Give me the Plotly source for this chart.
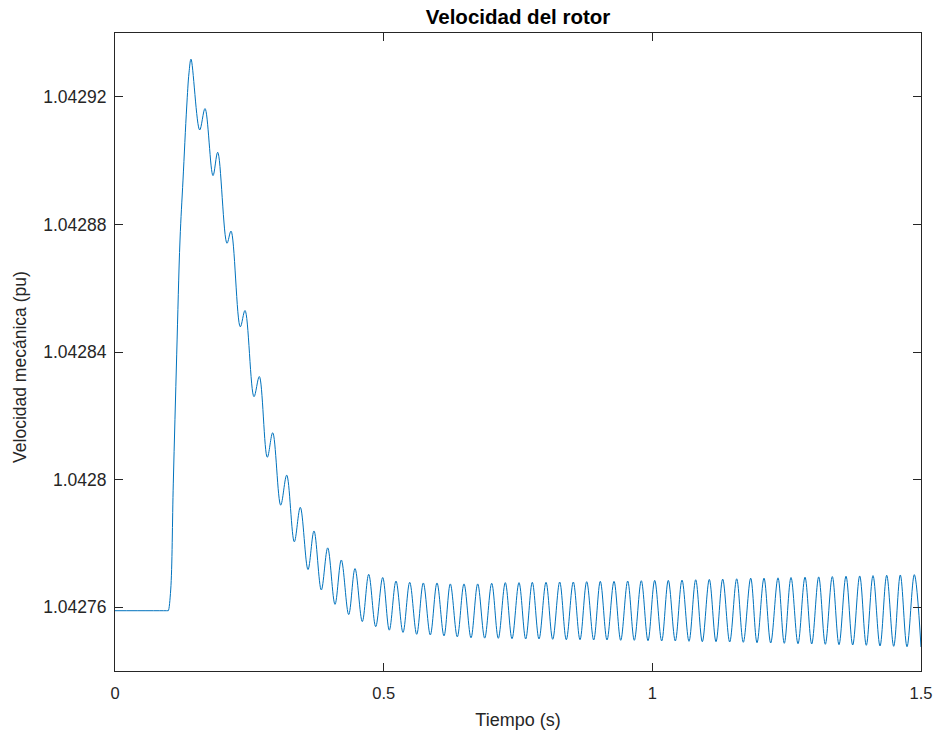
import plotly.graph_objects as go

# ---- data ----
# initial flat part and the rise after the disturbance (t ~ 0.1 s)
rise_t = [0.0, 0.0985, 0.0992, 0.10366, 0.10850, 0.11483, 0.12097, 0.12655, 0.13344, 0.13772]
rise_v = [1.0427589, 1.0427589, 1.0427589, 1.0427654, 1.0427989, 1.0428391,
          1.0428751, 1.0428939, 1.0429168, 1.0429275]

# local maxima of the oscillation
peak_t = [0.14144, 0.16750, 0.19113, 0.21588, 0.24194, 0.26855, 0.29349, 0.31954, 0.34485,
          0.37035, 0.39585, 0.42116, 0.44666, 0.47215, 0.49821, 0.52296, 0.54846, 0.57377,
          0.59926, 0.62401, 0.64951, 0.67500, 0.70106, 0.72637, 0.75187, 0.77662, 0.80212,
          0.82761, 0.85292, 0.87786, 0.90317, 0.92867, 0.95416, 0.97947, 1.00441, 1.02972,
          1.05522, 1.08071, 1.10602, 1.13096, 1.15701, 1.18307, 1.20782, 1.23388, 1.25807,
          1.28413, 1.30962, 1.33494, 1.36043, 1.38593, 1.41068, 1.43618, 1.46149, 1.48754]
peak_v = [1.0429318, 1.0429163, 1.0429026, 1.0428779, 1.0428530, 1.0428323, 1.0428147,
          1.0428014, 1.0427913, 1.0427839, 1.0427786, 1.0427748, 1.0427721, 1.0427703,
          1.0427693, 1.0427682, 1.0427678, 1.0427676, 1.0427676, 1.0427673, 1.0427673,
          1.0427673, 1.0427675, 1.0427677, 1.0427677, 1.0427678, 1.0427678, 1.0427679,
          1.0427679, 1.0427680, 1.0427681, 1.0427681, 1.0427682, 1.0427683, 1.0427684,
          1.0427684, 1.0427685, 1.0427686, 1.0427687, 1.0427688, 1.0427689, 1.0427691,
          1.0427691, 1.0427692, 1.0427693, 1.0427694, 1.0427695, 1.0427696, 1.0427697,
          1.0427698, 1.0427699, 1.0427700, 1.0427701, 1.0427702]

# local minima of the oscillation
trough_t = [0.15763, 0.18238, 0.20844, 0.23319, 0.25869, 0.28344, 0.30838, 0.33369, 0.35918,
            0.38394, 0.40943, 0.43493, 0.46024, 0.48518, 0.51049, 0.53598, 0.56148, 0.58679,
            0.61229, 0.63704, 0.66254, 0.68803, 0.71334, 0.73884, 0.76433, 0.78908, 0.81458,
            0.83989, 0.86539, 0.89089, 0.91564, 0.94114, 0.96645, 0.99194, 1.01744, 1.04275,
            1.06824, 1.09300, 1.11849, 1.14399, 1.16930, 1.19480, 1.22029, 1.24560, 1.27110,
            1.29660, 1.32191, 1.34740, 1.37290, 1.39821, 1.42371, 1.44920, 1.47396, 1.50000]
trough_v = [1.0429096, 1.0428953, 1.0428741, 1.0428479, 1.0428260, 1.0428070, 1.0427920,
            1.0427805, 1.0427718, 1.0427654, 1.0427609, 1.0427577, 1.0427555, 1.0427539,
            1.0427528, 1.0427521, 1.0427515, 1.0427513, 1.0427510, 1.0427507, 1.0427504,
            1.0427503, 1.04275025, 1.04275013, 1.04275003, 1.04275003, 1.04274994,
            1.04274981, 1.04274981, 1.04274972, 1.04274972, 1.04274962, 1.04274962,
            1.04274950, 1.04274941, 1.04274941, 1.04274931, 1.04274919, 1.04274919,
            1.04274909, 1.04274900, 1.04274887, 1.04274878, 1.04274868, 1.04274856,
            1.04274846, 1.04274837, 1.04274825, 1.04274815, 1.04274806, 1.04274784,
            1.04274774, 1.04274762, 1.04274752]

x_ticks = [0, 0.5, 1, 1.5]
x_tick_labels = ["0", "0.5", "1", "1.5"]
y_ticks = [1.04276, 1.0428, 1.04284, 1.04288, 1.04292]
y_tick_labels = ["1.04276", "1.0428", "1.04284", "1.04288", "1.04292"]

# ---- assemble the curve: rise, then alternating maxima / minima ----
t = list(rise_t)
v = list(rise_v)
for pt, pv, tt, tv in zip(peak_t, peak_v, trough_t, trough_v):
    t += [pt, tt]
    v += [pv, tv]

AX = "#262626"
FONT = "Liberation Sans, Arial, Helvetica, sans-serif"

fig = go.Figure()
fig.add_trace(go.Scatter(
    x=t, y=v, mode="lines",
    line=dict(color="#0072BD", width=1, shape="spline", smoothing=1.0),
    hoverinfo="skip", showlegend=False,
))

fig.update_layout(
    width=940, height=734,
    margin=dict(l=115, r=19, t=33, b=63),
    paper_bgcolor="white", plot_bgcolor="white",
    font=dict(family=FONT, color=AX, size=16),
    title=dict(text="<b>Velocidad del rotor</b>", x=0.5, xref="paper", xanchor="center",
               y=1 - 17 / 734, yanchor="middle", yref="container",
               font=dict(size=20.5, family=FONT, color="black")),
    showlegend=False,
)

fig.update_xaxes(
    range=[0, 1.5], tickvals=x_ticks, ticktext=x_tick_labels,
    ticks="inside", ticklen=8, tickwidth=1, tickcolor=AX,
    showline=True, linecolor=AX, linewidth=1, mirror="allticks",
    showgrid=False, zeroline=False, automargin=False,
    ticklabelstandoff=7,
    tickfont=dict(size=16.5, family=FONT, color=AX),
    title=dict(text="Tiempo (s)", font=dict(size=18, family=FONT, color=AX), standoff=12),
)
fig.update_yaxes(
    range=[1.04274, 1.04294], tickvals=y_ticks, ticktext=y_tick_labels,
    ticks="inside", ticklen=8, tickwidth=1, tickcolor=AX,
    showline=True, linecolor=AX, linewidth=1, mirror="allticks",
    showgrid=False, zeroline=False, automargin=False,
    ticklabelstandoff=4,
    tickfont=dict(size=17.5, family=FONT, color=AX),
)

# y-axis label, placed like the reference (slightly below the axis centre)
fig.add_annotation(
    text="Velocidad mecánica (pu)", textangle=-90,
    xref="paper", x=-0.118, xanchor="center",
    yref="paper", y=0.4765, yanchor="middle",
    showarrow=False, font=dict(size=17.5, family=FONT, color=AX),
)

fig.write_html("out.html")
